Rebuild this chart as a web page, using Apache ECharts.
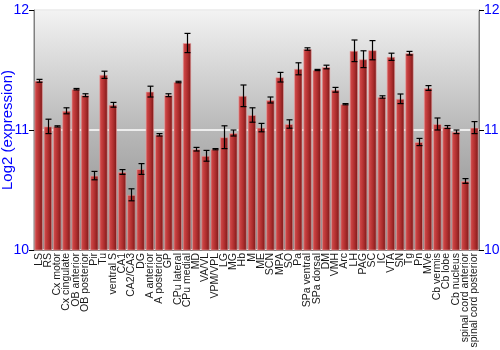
<!DOCTYPE html>
<html>
<head>
<meta charset="utf-8">
<script src="https://cdn.jsdelivr.net/npm/echarts@6/dist/echarts.min.js"></script>
<style>html,body{margin:0;padding:0;background:#fff}#c{width:500px;height:350px}</style>
</head>
<body>
<div id="c"></div>
<script>
const categories = ["LS","RS","Cx motor","Cx cingulate","OB anterior","OB posterior","Pir","Tu","ventral S","CA1","CA2/CA3","DG","A anterior","A posterior","GP","CPu lateral","CPu medial","MD","VA/VL","VPM/VPL","LG","MG","Hb","M","ME","SCN","MPA","SO","Pa","SPa ventral","SPa dorsal","DM","VMH","Arc","LH","PAG","SC","IC","VTA","SN","Tg","Pn","MVe","Cb vermis","Cb lobe","Cb nucleus","spinal cord anterior","spinal cord posterior"];
const values = [11.41,11.03,11.03,11.16,11.34,11.29,10.62,11.46,11.21,10.65,10.46,10.675,11.32,10.96,11.29,11.40,11.725,10.84,10.785,10.84,10.94,10.975,11.285,11.125,11.02,11.25,11.44,11.05,11.51,11.675,11.50,11.525,11.335,11.215,11.66,11.59,11.665,11.275,11.61,11.26,11.64,10.90,11.35,11.05,11.025,10.985,10.575,11.02];
const errors = [0.012,0.06,0.005,0.025,0.006,0.012,0.035,0.03,0.02,0.02,0.05,0.045,0.045,0.01,0.012,0.006,0.08,0.015,0.045,0.005,0.095,0.025,0.09,0.06,0.035,0.025,0.04,0.035,0.05,0.01,0.005,0.015,0.02,0.005,0.09,0.07,0.08,0.01,0.03,0.04,0.015,0.03,0.02,0.05,0.012,0.015,0.02,0.05];
const yTicks = [10, 11, 12];

const chart = echarts.init(document.getElementById('c'));
const blue = '#0000ff';
const font = 'Liberation Sans, Arial, sans-serif';
const yAxisCommon = {
  type: 'value', min: yTicks[0], max: yTicks[yTicks.length-1], interval: 1,
  axisLine: {show: true, lineStyle: {color: '#808080', width: 1}},
  axisTick: {show: true, length: 5, lineStyle: {color: '#000'}},
  axisLabel: {color: blue, fontSize: 14, fontFamily: font, margin: 5},
  splitLine: {show: false}
};
chart.setOption({
  animation: false,
  grid: {left: 34, right: 21, top: 10, bottom: 100, show: true, containLabel: false, outerBoundsMode: 'none',
    borderColor: '#808080', borderWidth: 1,
    backgroundColor: new echarts.graphic.LinearGradient(0, 0, 0, 1, [
      {offset: 0, color: '#f3f3f3'}, {offset: 0.5, color: '#b8b8b8'}, {offset: 1, color: '#888888'}])},
  xAxis: {type: 'category', data: categories,
    axisLine: {show: true, lineStyle: {color: '#808080'}},
    axisTick: {show: false},
    axisLabel: {rotate: 90, interval: 0, color: '#1a1a1a', fontSize: 10.5, fontFamily: font, margin: 3}},
  yAxis: [
    Object.assign({}, yAxisCommon, {position: 'left', name: 'Log2 (expression)', nameLocation: 'middle', nameGap: 19,
      nameMoveOverlap: false,
      nameTextStyle: {color: blue, fontSize: 15, fontFamily: font},
      splitLine: {show: true, lineStyle: {color: '#ffffff', width: 1.5}}}),
    Object.assign({}, yAxisCommon, {position: 'right'})
  ],
  series: [
    {type: 'bar', data: values, barCategoryGap: '8%',
      itemStyle: {
        color: new echarts.graphic.LinearGradient(0, 0, 1, 0, [
          {offset: 0, color: '#cc5555'}, {offset: 0.25, color: '#c84040'}, {offset: 0.6, color: '#aa2c2c'}, {offset: 1, color: '#741616'}]),
        borderColor: 'rgba(235,160,160,0.6)', borderWidth: 1}},
    {type: 'custom', data: values.map((v, i) => [i, v - errors[i], v + errors[i]]), z: 5,
      renderItem: function (params, api) {
        const lo = api.coord([api.value(0), api.value(1)]);
        const hi = api.coord([api.value(0), api.value(2)]);
        const x = Math.round(lo[0]) + 0.5;
        const w = 3;
        const st = {stroke: '#000', lineWidth: 1.2};
        return {type: 'group', children: [
          {type: 'line', shape: {x1: x, y1: hi[1], x2: x, y2: lo[1]}, style: st},
          {type: 'line', shape: {x1: x - w, y1: hi[1], x2: x + w, y2: hi[1]}, style: st},
          {type: 'line', shape: {x1: x - w, y1: lo[1], x2: x + w, y2: lo[1]}, style: st}
        ]};
      }}
  ]
});
</script>
</body>
</html>
